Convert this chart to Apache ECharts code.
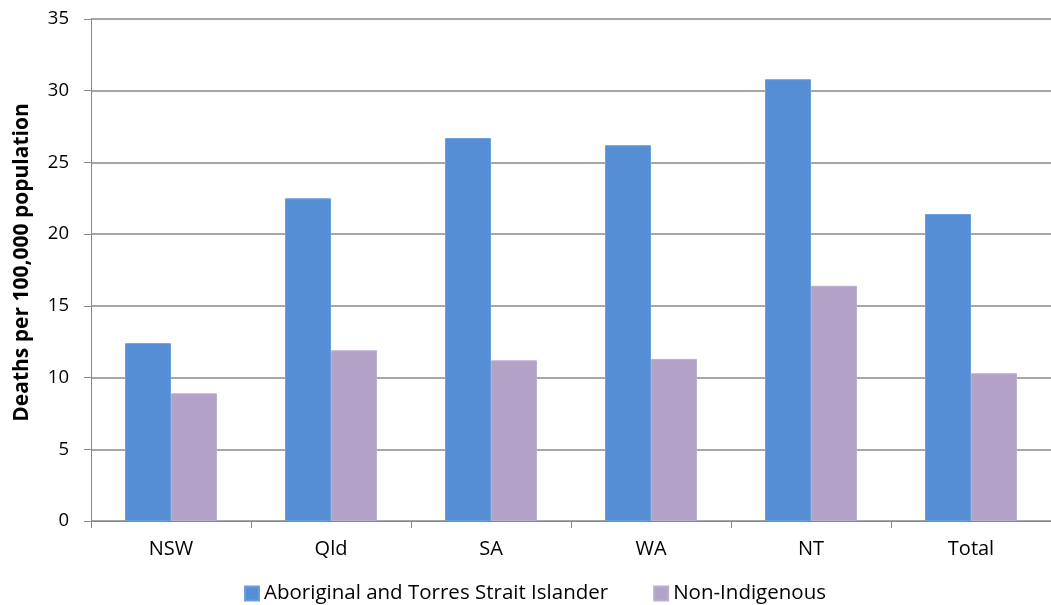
<!DOCTYPE html>
<html>
<head>
<meta charset="utf-8">
<style>
  html, body { margin: 0; padding: 0; background: #fff; }
  #chart { width: 1051px; height: 605px; }
</style>
<script src="https://cdn.jsdelivr.net/npm/echarts@6/dist/echarts.min.js"></script>
</head>
<body>
<div id="chart"></div>
<script>
// Death rates per 100,000 population by jurisdiction
const categories = ['NSW', 'Qld', 'SA', 'WA', 'NT', 'Total'];
const indigenous = [12.4, 22.5, 26.7, 26.2, 30.8, 21.4];
const nonIndigenous = [8.9, 11.9, 11.2, 11.3, 16.4, 10.3];
const seriesNames = ['Aboriginal and Torres Strait Islander', 'Non-Indigenous'];
const yTicks = { min: 0, max: 35, interval: 5 };

const font = 'Open Sans, DejaVu Sans, sans-serif';
const chart = echarts.init(document.getElementById('chart'));

chart.setOption({
  animation: false,
  textStyle: { fontFamily: font },
  grid: {
    left: 91, right: 0, top: 19, bottom: 84,
    containLabel: false,
    outerBoundsMode: 'none'
  },
  legend: {
    top: 583,
    left: 244,
    padding: 0,
    icon: 'rect',
    itemWidth: 14,
    itemHeight: 14,
    itemGap: 45,
    itemTextGap: 6,
    textStyle: { fontSize: 20.5, color: '#000', fontFamily: font },
    data: seriesNames
  },
  xAxis: {
    type: 'category',
    data: categories,
    axisLine: { lineStyle: { color: '#888', width: 1 } },
    axisTick: { show: true, length: 7, lineStyle: { color: '#888' } },
    axisLabel: { fontSize: 20, color: '#000', margin: 18, fontFamily: font }
  },
  yAxis: {
    type: 'value',
    min: yTicks.min,
    max: yTicks.max,
    interval: yTicks.interval,
    name: 'Deaths per 100,000 population',
    nameLocation: 'middle',
    nameGap: 58,
    nameTextStyle: {
      fontSize: 21, fontWeight: 'bold', color: '#000', fontFamily: font,
      padding: [0, 0, 0, 15]
    },
    axisLine: { show: true, lineStyle: { color: '#888', width: 1 } },
    axisTick: { show: true, length: 7, lineStyle: { color: '#888' } },
    axisLabel: { fontSize: 18.5, color: '#000', margin: 22, fontFamily: font },
    splitLine: { show: true, lineStyle: { color: '#888', width: 1.5 } }
  },
  series: [
    {
      name: seriesNames[0],
      type: 'bar',
      data: indigenous,
      barGap: '0%',
      barCategoryGap: '42.5%',
      itemStyle: { color: '#558ED5', borderColor: '#6c9ede', borderWidth: 1 }
    },
    {
      name: seriesNames[1],
      type: 'bar',
      data: nonIndigenous,
      barGap: '0%',
      barCategoryGap: '42.5%',
      itemStyle: { color: '#B3A2C7', borderColor: '#bcaecf', borderWidth: 1 }
    }
  ]
});
</script>
</body>
</html>
